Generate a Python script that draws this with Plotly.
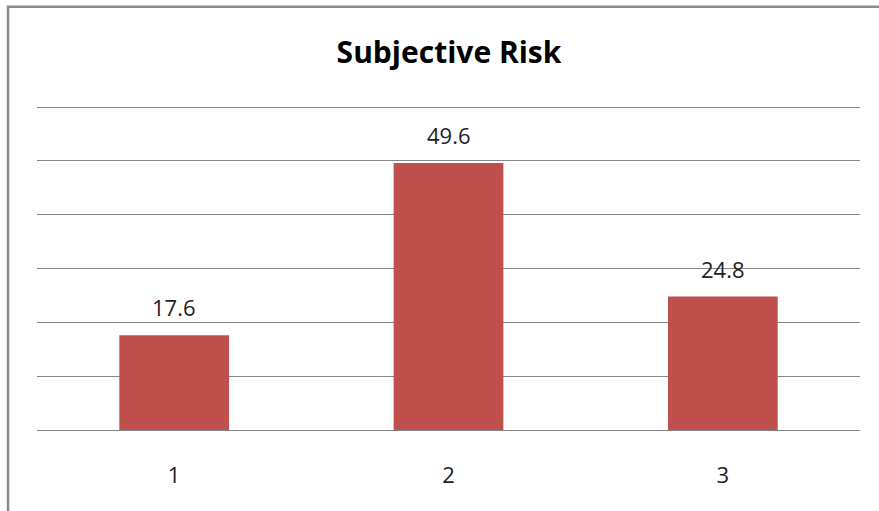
import plotly.graph_objects as go

# Chart data
categories = [1, 2, 3]
values = [17.6, 49.6, 24.8]
bar_color = "#C0504D"
grid_color = "#868686"
font_family = "Open Sans, Liberation Sans, sans-serif"

fig = go.Figure(
    go.Bar(
        x=categories,
        y=values,
        width=0.4,
        marker=dict(color=bar_color, line=dict(width=0)),
        hoverinfo="skip",
    )
)

# Value labels above each bar
for cat, val in zip(categories, values):
    fig.add_annotation(
        x=cat, y=val, text=f"{val}", showarrow=False,
        yanchor="bottom", yshift=11,
        font=dict(family=font_family, size=22, color="#222222"),
    )

# Outer frame of the chart area
fig.add_shape(
    type="rect", xref="paper", yref="paper",
    x0=-0.0352, x1=1.2, y0=-0.6, y1=1.3065,
    line=dict(color="#8a8a8a", width=2.5), layer="below",
)

fig.update_layout(
    width=879, height=511,
    margin=dict(l=37, r=19, t=106, b=81),
    paper_bgcolor="white", plot_bgcolor="white",
    showlegend=False,
    title=dict(
        text="<b>Subjective Risk</b>",
        x=449 / 879, xanchor="center",
        y=1 - 52 / 511, yanchor="middle",
        font=dict(family=font_family, size=30, color="#000000"),
    ),
    xaxis=dict(
        range=[0.5, 3.5], tickvals=categories,
        ticktext=[str(c) for c in categories],
        showgrid=False, zeroline=False,
        showline=False, ticks="", ticklabelstandoff=30,
        tickfont=dict(family=font_family, size=22, color="#222222"),
    ),
    yaxis=dict(
        range=[0, 60.2], tickvals=[0, 10, 20, 30, 40, 50, 60],
        showticklabels=False, ticks="",
        showgrid=True, gridcolor=grid_color, gridwidth=1,
        zeroline=True, zerolinecolor=grid_color, zerolinewidth=1,
        showline=False,
    ),
)

fig.write_html("out.html")
